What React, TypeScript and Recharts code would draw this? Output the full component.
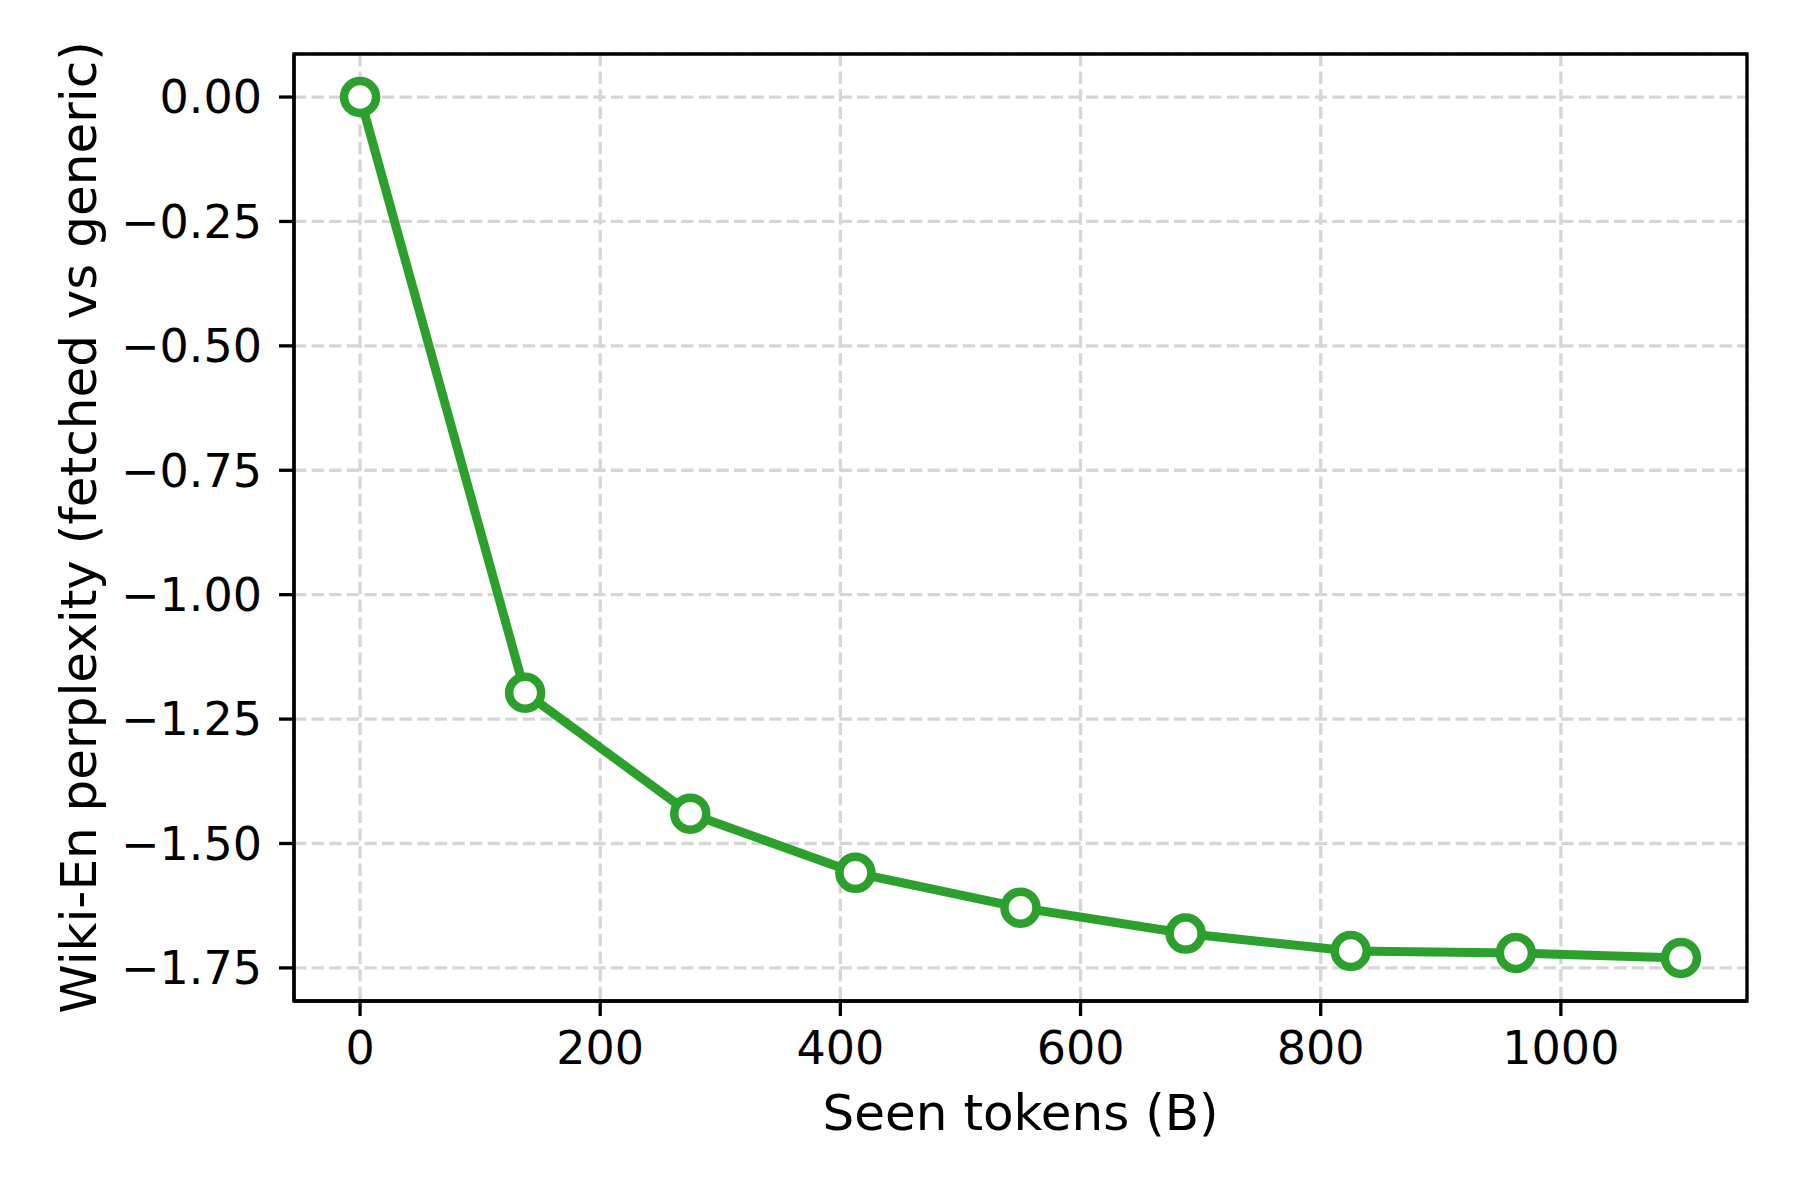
import React from 'react';
import { CartesianGrid, Line, LineChart, ReferenceArea, XAxis, YAxis } from 'recharts';

// seen tokens (B) and the perplexity gap
const tokens = [0, 137.5, 275, 412.5, 550, 687.5, 825, 962.5, 1100];
const ppl = [0, -1.197, -1.44, -1.559, -1.629, -1.681, -1.716, -1.72, -1.73];

const xTicks = [0, 200, 400, 600, 800, 1000];
const yTicks = [0, -0.25, -0.5, -0.75, -1, -1.25, -1.5, -1.75];

const xLabel = 'Seen tokens (B)';
const yLabel = 'Wiki-En perplexity (fetched vs generic)';

const GREEN = '#2ca02c';
const FONT = '"DejaVu Sans", sans-serif';

const data = tokens.map((t, i) => ({ t, v: ppl[i] }));

const fmtY = (v: number) => (v === 0 ? '0.00' : '\u2212' + Math.abs(v).toFixed(2));

const Dot = (props: any) => {
  const { cx, cy } = props;
  return <circle cx={cx} cy={cy} r={16} fill="#fff" stroke={GREEN} strokeWidth={8.5} />;
};

export default function App() {
  const tickStyle = { fill: '#000', fontSize: 46, fontFamily: FONT };
  return (
    <div style={{ position: 'absolute', left: 0, top: 0, width: 1800, height: 1200, background: '#fff' }}>
      <LineChart width={1800} height={1200} data={data} margin={{ top: 54, right: 53, bottom: 0, left: 0 }}>
        <CartesianGrid stroke="#d6d6d6" strokeWidth={3.3} strokeDasharray="12.3 5.3" />
        <XAxis
          dataKey="t"
          type="number"
          domain={[-55, 1155]}
          allowDataOverflow
          ticks={xTicks}
          interval={0}
          height={199}
          tick={tickStyle}
          tickSize={15}
          tickMargin={15}
          axisLine={{ stroke: '#000', strokeWidth: 3.3 }}
          tickLine={{ stroke: '#000', strokeWidth: 3.3 }}
          label={{
            content: ({ viewBox }: any) => (
              <text x={viewBox.x + viewBox.width / 2} y={viewBox.y + 129} textAnchor="middle"
                fontSize={50} fontFamily={FONT} fill="#000">{xLabel}</text>
            ),
          }}
        />
        <YAxis
          type="number"
          domain={[-1.8165, 0.0865]}
          allowDataOverflow
          ticks={yTicks}
          interval={0}
          width={294}
          tick={tickStyle}
          tickFormatter={fmtY}
          tickSize={15}
          tickMargin={17}
          axisLine={{ stroke: '#000', strokeWidth: 3.3 }}
          tickLine={{ stroke: '#000', strokeWidth: 3.3 }}
          label={{
            content: ({ viewBox }: any) => {
              const x = viewBox.x + 96;
              const y = viewBox.y + viewBox.height / 2;
              return (
                <text x={x} y={y} transform={`rotate(-90, ${x}, ${y})`} textAnchor="middle"
                  fontSize={50} fontFamily={FONT} fill="#000">{yLabel}</text>
              );
            },
          }}
        />
        <ReferenceArea x1={-55} x2={1155} y1={-1.8165} y2={0.0865} fill="none" stroke="#000" strokeWidth={3.3} ifOverflow="visible" />
        <Line
          dataKey="v"
          stroke={GREEN}
          strokeWidth={9}
          dot={<Dot />}
          activeDot={false}
          isAnimationActive={false}
        />
      </LineChart>
    </div>
  );
}
